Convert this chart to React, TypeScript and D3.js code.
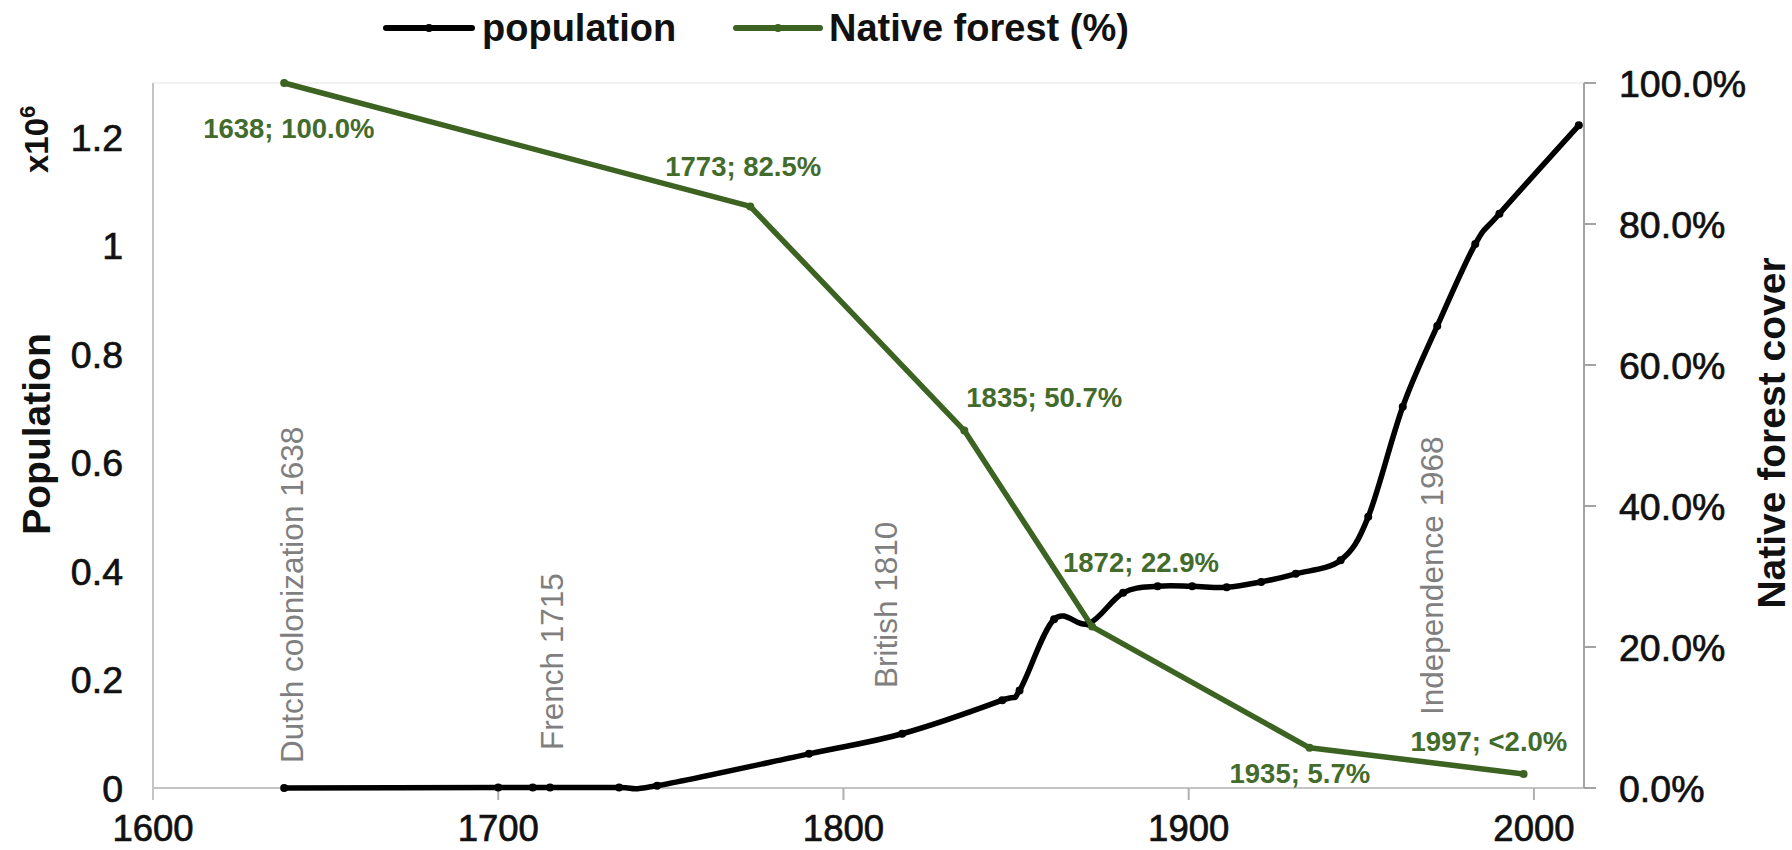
import React from 'react';
import * as d3 from 'd3';

// population of Mauritius (millions)
const popYears = [1638, 1700, 1710, 1715, 1735, 1746, 1790, 1817, 1846, 1851, 1861, 1871, 1881, 1891, 1901, 1911, 1921, 1931, 1944, 1952, 1962, 1972, 1983, 1990, 2013];
const popValues = [0.0001, 0.001, 0.001, 0.001, 0.001, 0.004, 0.063, 0.1, 0.162, 0.18, 0.311, 0.303, 0.36, 0.372, 0.372, 0.37, 0.38, 0.395, 0.42, 0.5, 0.703, 0.852, 1.003, 1.059, 1.222];

// native forest cover (%)
const forestYears = [1638, 1773, 1835, 1872, 1935, 1997];
const forestValues = [100, 82.5, 50.7, 22.9, 5.7, 2.0];
const forestLabels = ['1638; 100.0%', '1773; 82.5%', '1835; 50.7%', '1872; 22.9%', '1935; 5.7%', '1997; <2.0%'];

const eraNames = ['Dutch colonization 1638', 'French 1715', 'British 1810', 'Independence 1968'];
const eraYears = [1638, 1715, 1810, 1968];

const yearTicks = [1600, 1700, 1800, 1900, 2000];
const popTicks = [0, 0.2, 0.4, 0.6, 0.8, 1, 1.2];
const popTickLabels = ['0', '0.2', '0.4', '0.6', '0.8', '1', '1.2'];
const pctTicks = [0, 20, 40, 60, 80, 100];
const pctTickLabels = ['0.0%', '20.0%', '40.0%', '60.0%', '80.0%', '100.0%'];

const W = 1792;
const H = 850;
const FONT = '"Liberation Sans", Arial, Helvetica, sans-serif';
const GREEN = '#3c6322';
const GREEN_TEXT = '#436b2c';

// label placement relative to its point: [dx to text start, dy to text centre]
const forestLabelOffsets: [number, number][] = [[-81, 45], [-85, -40], [2, -34], [-29, -65], [-80, 25], [-113, -33]];
// era labels: [dx of baseline from year, y where text starts]
const eraLayout: [number, number][] = [[19, 763], [13, 750], [19, 688], [20, 715]];

export default function App() {
    const left = 153, right = 1584, top = 83, bottom = 788;

    const x = d3.scaleLinear().domain([1600, 2014.5]).range([left, right]);
    const yPop = d3.scaleLinear().domain([0, 1.3]).range([bottom, top]);
    const yPct = d3.scaleLinear().domain([0, 100]).range([bottom, top]);

    const popLine = d3.line<number>()
        .x((_, i) => x(popYears[i]))
        .y(d => yPop(d))
        .curve(d3.curveCatmullRom.alpha(0));

    const forestLine = d3.line<number>()
        .x((_, i) => x(forestYears[i]))
        .y(d => yPct(d));

    const tickFs = 37.5;
    // tick labels look a little heavier than plain regular in the original
    const tickStyle = { fill: '#111', stroke: '#111', strokeWidth: 0.7 };

    return (
        <div style={{ position: 'absolute', left: 0, top: 0, width: W, height: H, background: '#fff' }}>
            <svg width={W} height={H} style={{ display: 'block', fontFamily: FONT }}>
                <rect width={W} height={H} fill="#fff" />

                {/* plot frame */}
                <line x1={left} x2={right} y1={top} y2={top} stroke="#eeeeee" strokeWidth={1.5} />
                <line x1={left} x2={left} y1={top} y2={bottom + 12} stroke="#c4c4c4" strokeWidth={2} />
                <line x1={left} x2={right} y1={bottom} y2={bottom} stroke="#c4c4c4" strokeWidth={2} />
                {yearTicks.slice(1).map(t => (
                    <line key={t} x1={x(t)} x2={x(t)} y1={bottom} y2={bottom + 12} stroke="#b0b0b0" strokeWidth={2} />
                ))}
                <line x1={right} x2={right} y1={top} y2={bottom} stroke="#a3a3a3" strokeWidth={2} />
                {pctTicks.map(t => (
                    <line key={t} x1={right} x2={right + 12} y1={yPct(t)} y2={yPct(t)} stroke="#a3a3a3" strokeWidth={2} />
                ))}

                {/* tick labels */}
                {yearTicks.map(t => (
                    <text key={t} x={x(t)} y={841} textAnchor="middle" fontSize={36.5} {...tickStyle}>{t}</text>
                ))}
                {popTicks.map((t, i) => (
                    <text key={t} x={123} y={yPop(t) + tickFs * 0.36} textAnchor="end" fontSize={tickFs} {...tickStyle}>{popTickLabels[i]}</text>
                ))}
                {pctTicks.map((t, i) => (
                    <text key={t} x={1619} y={yPct(t) + tickFs * 0.36} textAnchor="start" fontSize={tickFs} {...tickStyle}>{pctTickLabels[i]}</text>
                ))}

                {/* axis titles */}
                <text transform="translate(50,434) rotate(-90)" textAnchor="middle" fontSize={39} fontWeight="bold" fill="#111">Population</text>
                <text transform="translate(48,173) rotate(-90)" textAnchor="start" fontSize={33} fontWeight="bold" fill="#111">
                    x10<tspan fontSize={22} dy={-13}>6</tspan>
                </text>
                <text transform="translate(1785,433) rotate(-90)" textAnchor="middle" fontSize={39} fontWeight="bold" fill="#111">Native forest cover</text>

                {/* era labels */}
                {eraNames.map((name, i) => (
                    <text key={name} transform={`translate(${x(eraYears[i]) + eraLayout[i][0]},${eraLayout[i][1]}) rotate(-90)`}
                        fontSize={31.5} fill="#7f7f7f">{name}</text>
                ))}

                {/* population series */}
                <path d={popLine(popValues) ?? ''} fill="none" stroke="#000" strokeWidth={5.5} strokeLinejoin="round" strokeLinecap="round" />
                {popValues.map((v, i) => (
                    <circle key={i} cx={x(popYears[i])} cy={yPop(v)} r={4} fill="#000" />
                ))}

                {/* forest series */}
                <path d={forestLine(forestValues) ?? ''} fill="none" stroke={GREEN} strokeWidth={5.5} strokeLinejoin="round" />
                {forestValues.map((v, i) => (
                    <circle key={i} cx={x(forestYears[i])} cy={yPct(v)} r={4} fill={GREEN} />
                ))}
                {forestLabels.map((lab, i) => (
                    <text key={lab} x={x(forestYears[i]) + forestLabelOffsets[i][0]} y={yPct(forestValues[i]) + forestLabelOffsets[i][1] + 10}
                        fontSize={27.5} fontWeight="bold" fill={GREEN_TEXT}>{lab}</text>
                ))}

                {/* legend */}
                <g>
                    <line x1={386} x2={472} y1={28} y2={28} stroke="#000" strokeWidth={6} strokeLinecap="round" />
                    <circle cx={429} cy={28} r={4} fill="#000" />
                    <text x={482} y={41} fontSize={38} fontWeight="bold" fill="#111">population</text>
                    <line x1={736} x2={820} y1={28} y2={28} stroke={GREEN} strokeWidth={6} strokeLinecap="round" />
                    <circle cx={778} cy={28} r={4} fill={GREEN} />
                    <text x={829} y={41} fontSize={38} fontWeight="bold" fill="#111">Native forest (%)</text>
                </g>
            </svg>
        </div>
    );
}
